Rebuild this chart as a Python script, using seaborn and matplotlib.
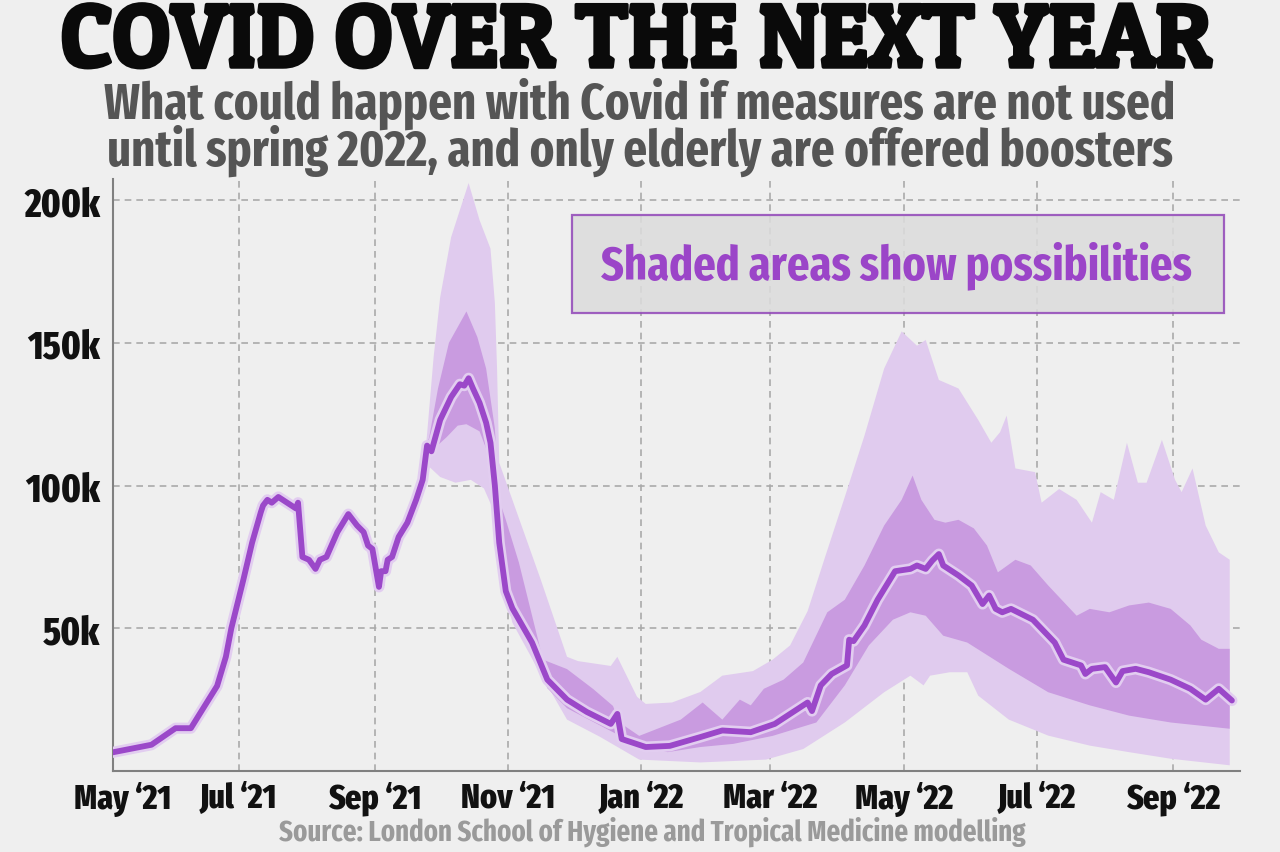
import matplotlib
matplotlib.use('Agg')
import matplotlib.pyplot as plt
import matplotlib.patheffects as pe
from matplotlib.patches import Rectangle
from matplotlib.transforms import ScaledTranslation
import seaborn as sns
import pandas as pd
import numpy as np

# x values are days after 1 May 2021, y values are cases in thousands
BASE = pd.Timestamp('2021-05-01')

line_day = [3, 21, 32, 39, 51, 55, 57.5, 63, 67, 71, 72, 74, 76, 79, 83, 87, 88, 90, 93, 96,
            98, 101, 106, 111, 115, 118, 120, 122, 125, 126, 128, 129, 131, 134, 138, 142, 145,
            147, 149, 153, 158, 162, 164, 166, 168, 171, 174, 176, 178, 180, 183, 186, 189, 195,
            202, 211, 220, 231, 234, 236, 247, 258, 272, 282, 295, 306, 319, 321, 323, 327, 332,
            339, 340, 342, 347, 353, 361, 368, 371, 375, 378, 381, 383, 390, 396, 401, 404, 407,
            410, 414, 424, 431, 434, 438, 446, 448, 451, 457, 462, 465, 471, 477, 487, 496, 503,
            509, 515]
line_val = [6.5, 9.2, 15, 15, 29.8, 40, 50, 67, 80, 90.7, 93, 95, 94, 96, 94, 92, 94, 75, 74, 70.8,
            74, 75, 83.7, 90, 86, 83.7, 79, 77.8, 64.5, 70, 70, 74, 75, 82, 87, 95, 102,
            114, 112, 123, 131, 135.5, 135, 137.6, 134, 129, 122, 115, 100, 80, 63, 57, 53, 45,
            32, 25, 20.7, 16.5, 20, 11.2, 8.4, 8.8, 11.9, 14.2, 13.6, 16.5, 23, 24, 21, 30, 34,
            37, 46, 45.5, 51, 60, 70, 70.8, 72, 70.8, 73.7, 76, 72, 68.5, 65, 58.5, 61.5, 56.8,
            55.6, 56.8, 53, 47.4, 45, 39, 37, 34, 35.8, 36.4, 31, 35, 35.8, 34.6, 32, 28.8, 25,
            28.8, 24.7]

# outer (wide) range of possibilities
outer_hi_day = [146, 147, 150, 153, 158, 166, 171, 176, 178, 179, 180, 188, 199, 211, 216, 231, 234,
                243, 247, 259, 272, 282, 296, 305, 313, 321, 329, 338, 347, 356, 364, 371, 375, 381,
                390, 399, 405, 409, 412, 416, 425, 428, 436, 444, 451, 455, 461, 467, 472, 476, 483,
                489, 492, 497, 503, 509, 514]
outer_hi_val = [110, 118, 145, 166, 187, 206, 193, 183, 164, 141, 108, 90.7, 67, 40, 38.5, 36.8, 40,
                26, 23.5, 24, 27.7, 33.4, 35, 39, 44, 56, 75, 96, 117.5, 141, 154, 149, 151, 137,
                134, 123, 115, 118.7, 124.5, 106, 104.7, 94, 98.8, 95, 87, 97.7, 95, 115, 101, 101, 116,
                102, 97.7, 106, 86, 76.6, 74]
outer_lo_day = [146, 153, 160, 167, 173, 177, 180, 186, 196, 211, 226, 244, 272, 302, 319, 338, 356,
                368, 374, 377, 386, 394, 399, 413, 431, 450, 468, 487, 514]
outer_lo_val = [108, 103, 101, 102, 99, 92, 72, 52, 38, 18, 12, 4, 3, 4, 7.7, 17, 27.6,
                33.4, 30, 33.4, 34.6, 34.6, 26.4, 18, 12.4, 8.9, 6.6, 4.3, 2]

# inner (likely) range
inner_hi_day = [146, 148, 152, 157, 165, 170, 174, 178, 180, 183, 189, 200, 211, 223, 232, 235, 244,
                263, 273, 282, 290, 295, 301, 310, 319, 330, 338, 347, 356, 364, 369, 373, 379, 384,
                390, 397, 403, 408, 416, 423, 431, 444, 450, 459, 468, 477, 487, 496, 501, 509, 514]
inner_hi_val = [112, 117, 134, 150, 161, 152, 141, 120, 95, 88, 73, 39, 35.7, 28.7, 22.8, 17, 12.3,
                18, 24, 18, 25, 23, 28.8, 32, 38, 55.6, 60, 72, 86, 95, 103.5, 95, 88, 87,
                88, 85, 79, 69.6, 74, 72, 65, 54.4, 56.8, 55.6, 58, 59, 56.8, 51, 46, 42.8, 42.8]
inner_lo_day = [146, 156, 161, 165, 171, 176, 178, 180, 183, 187, 195, 202, 211, 226, 241, 257, 272,
                287, 305, 325, 338, 349, 360, 368, 375, 383, 394, 413, 431, 450, 468, 487, 514]
inner_lo_val = [110, 117, 121, 121.5, 119, 109, 98, 76, 60, 54, 42, 29, 22, 16, 10, 6.6, 8.4,
                9.5, 12.3, 17, 30, 44, 53, 55.6, 54.4, 47.4, 45, 35.8, 27.6, 23, 19.4, 17, 14.8]

tick_months = ['2021-07-01', '2021-09-01', '2021-11-01', '2022-01-01', '2022-03-01',
               '2022-05-01', '2022-07-01', '2022-09-01']
tick_labels = ['May \u201821', 'Jul \u201821', 'Sep \u201821', 'Nov \u201821', 'Jan \u201822',
               'Mar \u201822', 'May \u201822', 'Jul \u201822', 'Sep \u201822']
y_ticks = [50, 100, 150, 200]
y_labels = ['50k', '100k', '150k', '200k']


def to_dates(days):
    return BASE + pd.to_timedelta(np.array(days, dtype=float), unit='D')


sns.set_theme(style='white')
plt.rcParams['font.family'] = ['Fira Sans Extra Condensed', 'DejaVu Sans']

BG = '#efefef'
PURPLE = '#9b48c9'

fig = plt.figure(figsize=(12.8, 8.53), dpi=100, facecolor=BG)
ax = fig.add_axes([113 / 1280, 1 - 772 / 853, 1127 / 1280, 592 / 853])
ax.set_facecolor('none')

x_left = BASE + pd.Timedelta(days=3.4)
x_right = BASE + pd.Timedelta(days=518.7)

# bands drawn as polygons: upper edge forward, lower edge back
for hi_d, hi_v, lo_d, lo_v, col in [(outer_hi_day, outer_hi_val, outer_lo_day, outer_lo_val, '#e0cbee'),
                                    (inner_hi_day, inner_hi_val, inner_lo_day, inner_lo_val, '#c99be0')]:
    xs = np.concatenate([to_dates(hi_d), to_dates(lo_d)[::-1]])
    ys = np.concatenate([hi_v, lo_v[::-1]])
    ax.fill(xs, ys, color=col, lw=0, zorder=2)

sns.lineplot(x=to_dates(line_day), y=line_val, ax=ax, color=PURPLE, lw=4.2, zorder=4,
             solid_joinstyle='round', solid_capstyle='round',
             path_effects=[pe.Stroke(linewidth=8, foreground='#e2cdf0'), pe.Normal()])

ax.set_xlim(x_left, x_right)
ax.set_ylim(0, 207.4)

ax.set_xticks([x_left] + list(pd.to_datetime(tick_months)))
ax.set_xticklabels(tick_labels, fontsize=25, fontweight=800, color='#111111')
ax.set_yticks(y_ticks)
ax.set_yticklabels(y_labels, fontsize=28, fontweight=800, color='#111111')
ax.tick_params(axis='both', length=0)
ax.tick_params(axis='x', pad=7)
ax.tick_params(axis='y', pad=9)
ax.set_xlabel('')
ax.set_ylabel('')
# first label sits a little right of the axis corner
first = ax.get_xticklabels()[0]
first.set_transform(first.get_transform() + ScaledTranslation(10 / 100, 0, fig.dpi_scale_trans))

ax.grid(True, color='#aaaaaa', linestyle=(0, (4, 3)), linewidth=1.2, zorder=1)
ax.set_axisbelow(True)
for s in ['top', 'right']:
    ax.spines[s].set_visible(False)
for s in ['left', 'bottom']:
    ax.spines[s].set_color('#808080')
    ax.spines[s].set_linewidth(1.5)


def fit(t, width_px):
    fig.canvas.draw()
    w = t.get_window_extent().width
    t.set_fontsize(t.get_fontsize() * width_px / w)


title = fig.text(636 / 1280, 1 - 68 / 853, 'COVID OVER THE NEXT YEAR', ha='center', va='baseline',
                 family=['Patua One', 'Alfa Slab One', 'DejaVu Serif'], fontsize=55,
                 color='#0a0a0a',
                 path_effects=[pe.Stroke(linewidth=2.5, foreground='#0a0a0a'), pe.Normal()])
fit(title, 1150)

sub1 = fig.text(640 / 1280, 1 - 104 / 853, 'What could happen with Covid if measures are not used',
                ha='center', va='center', fontsize=32, fontweight='bold', color='#555555')
fit(sub1, 1070)
sub2 = fig.text(640 / 1280, 1 - 151 / 853, 'until spring 2022, and only elderly are offered boosters',
                ha='center', va='center', fontsize=sub1.get_fontsize(), fontweight='bold',
                color='#555555')

box = Rectangle((572 / 1280, 1 - 314 / 853), 652 / 1280, 98 / 853, transform=fig.transFigure,
                facecolor='#dcdcdc', alpha=0.85, edgecolor='#9146b8', linewidth=1.6, zorder=5)
fig.add_artist(box)
note = fig.text(896 / 1280, 1 - 266 / 853, 'Shaded areas show possibilities', ha='center',
                va='center', fontsize=34, fontweight='bold', color='#9b45c8', zorder=6)
fit(note, 592)

src = fig.text(652 / 1280, 1 - 832 / 853,
               'Source: London School of Hygiene and Tropical Medicine modelling',
               ha='center', va='center', fontsize=20, fontweight='bold', color='#9a9a9a')
fit(src, 750)

fig.savefig('out.png', dpi=100, facecolor=BG)
plt.close()
